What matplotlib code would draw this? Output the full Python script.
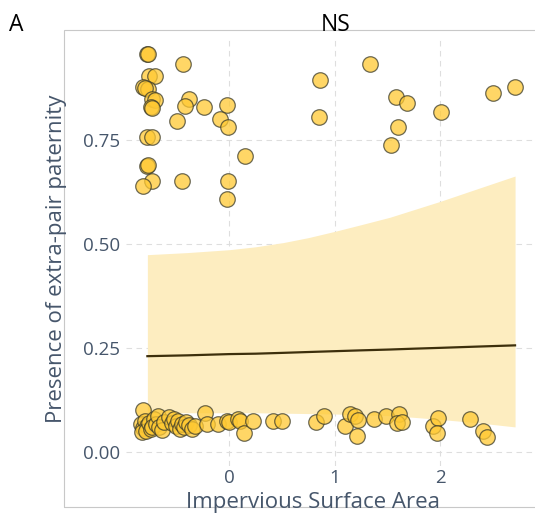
import matplotlib
matplotlib.use("Agg")
import matplotlib.pyplot as plt
from matplotlib.patches import Rectangle

plt.rcParams['font.family'] = ['Open Sans', 'DejaVu Sans']

# impervious surface area (scaled) and jittered EPP presence, one pair per brood
isa_x = [-0.787, -0.772, -0.437, -0.762, -0.708, -0.819, -0.772, -0.803, -0.739, -0.708,
         -0.748, -0.739, -0.382, -0.423, -0.242, -0.025, -0.502, -0.090, -0.011, -0.781,
         -0.739, 0.147, -0.781, -0.776, -0.739, -0.819, -0.454, -0.017, -0.025,
         0.860, 0.853, 1.335, 1.582, 1.690, 1.604, 1.531, 2.006, 2.501, 2.713,
         -0.82, -0.84, -0.82, -0.80, -0.78, -0.83, -0.79, -0.76, -0.75, -0.72,
         -0.74, -0.70, -0.68, -0.67, -0.64, -0.62, -0.57, -0.55, -0.53, -0.51,
         -0.49, -0.47, -0.45, -0.43, -0.41, -0.38, -0.36, -0.33, -0.233, -0.217,
         -0.106, -0.027, 0.0, 0.084, 0.10, 0.138, 0.226, 0.416, 0.496, 0.822,
         0.898, 1.097, 1.145, 1.192, 1.224, 1.214, 1.373, 1.487, 1.613, 1.594,
         1.636, 1.931, 1.984, 1.969, 2.285, 2.406, 2.444]
epp_y = [0.957, 0.957, 0.933, 0.904, 0.904, 0.878, 0.872, 0.874, 0.848, 0.845,
         0.830, 0.826, 0.848, 0.832, 0.829, 0.834, 0.796, 0.800, 0.780, 0.756,
         0.757, 0.712, 0.687, 0.689, 0.652, 0.640, 0.652, 0.652, 0.609,
         0.893, 0.805, 0.933, 0.853, 0.838, 0.782, 0.738, 0.817, 0.862, 0.877,
         0.101, 0.068, 0.058, 0.075, 0.062, 0.047, 0.050, 0.070, 0.055, 0.078,
         0.060, 0.066, 0.085, 0.060, 0.052, 0.072, 0.084, 0.070, 0.080, 0.062,
         0.075, 0.055, 0.068, 0.060, 0.072, 0.065, 0.054, 0.062, 0.093, 0.067,
         0.067, 0.075, 0.072, 0.079, 0.075, 0.045, 0.073, 0.073, 0.073, 0.071,
         0.085, 0.0625, 0.091, 0.0865, 0.077, 0.037, 0.079, 0.0865, 0.091, 0.069,
         0.071, 0.0625, 0.081, 0.046, 0.079, 0.051, 0.035]

# fitted probability and 95% CI
fit_x = [-0.78, -0.4, 0.0, 0.25, 0.51, 0.75, 1.0, 1.25, 1.525, 1.75, 2.0, 2.35, 2.713]
fit_y = [0.230, 0.232, 0.235, 0.236, 0.238, 0.240, 0.242, 0.244, 0.246, 0.248, 0.250, 0.253, 0.256]
ci_lo = [0.094, 0.094, 0.094, 0.094, 0.093, 0.092, 0.091, 0.089, 0.087, 0.083, 0.078, 0.070, 0.060]
ci_hi = [0.474, 0.479, 0.486, 0.493, 0.503, 0.515, 0.530, 0.546, 0.564, 0.582, 0.602, 0.632, 0.663]

x_ticks = [0, 1, 2]
y_ticks = [0.0, 0.25, 0.5, 0.75]
y_ticklabels = ['0.00', '0.25', '0.50', '0.75']

W, H = 535, 517
txt_col = '#46566b'

fig = plt.figure(figsize=(W / 100, H / 100), dpi=100)
ax = fig.add_axes([125.7 / W, 1 - 466 / H, (546 - 125.7) / W, (466 - 39.6) / H])

ax.fill_between(fit_x, ci_lo, ci_hi, color='#fdedc0', lw=0, zorder=1)
ax.plot(fit_x, fit_y, color='#3d2f0c', lw=1.6, zorder=2)
ax.scatter(isa_x, epp_y, s=125, facecolor='#ffc933', edgecolor='#3b3b2a',
           linewidths=0.9, alpha=0.75, zorder=3)

ax.set_xlim(-0.986, 3.007)
ax.set_ylim(-0.034, 0.991)
ax.set_xticks(x_ticks)
ax.set_yticks(y_ticks)
ax.set_yticklabels(y_ticklabels)
ax.tick_params(length=0, labelsize=13.5, labelcolor=txt_col)
ax.tick_params(axis='y', pad=4)
ax.tick_params(axis='x', pad=2)
ax.grid(True, color='#dedede', lw=0.8, linestyle=(0, (5, 4)))
ax.set_axisbelow(True)
for s in ax.spines.values():
    s.set_visible(False)

# border round the whole plot area
fig.add_artist(Rectangle((63.7 / W, 1 - 507.4 / H), 1.0, (507.4 - 30.3) / H,
                         transform=fig.transFigure, fill=False,
                         edgecolor='#c8c8c8', lw=0.8))

fig.text(312.5 / W, 1 - 508 / H, 'Impervious Surface Area', ha='center', va='baseline',
         fontsize=16, color=txt_col)
fig.text(62 / W, 1 - 259 / H, 'Presence of extra-pair paternity', ha='center',
         va='baseline', rotation=90, rotation_mode='anchor', fontsize=16, color=txt_col)
fig.text(336 / W, 1 - 31 / H, 'NS', ha='center', va='baseline', fontsize=16.5, color='black')
fig.text(8.6 / W, 1 - 31 / H, 'A', ha='left', va='baseline', fontsize=16.5, color='black')

fig.savefig('out.png', dpi=100)
